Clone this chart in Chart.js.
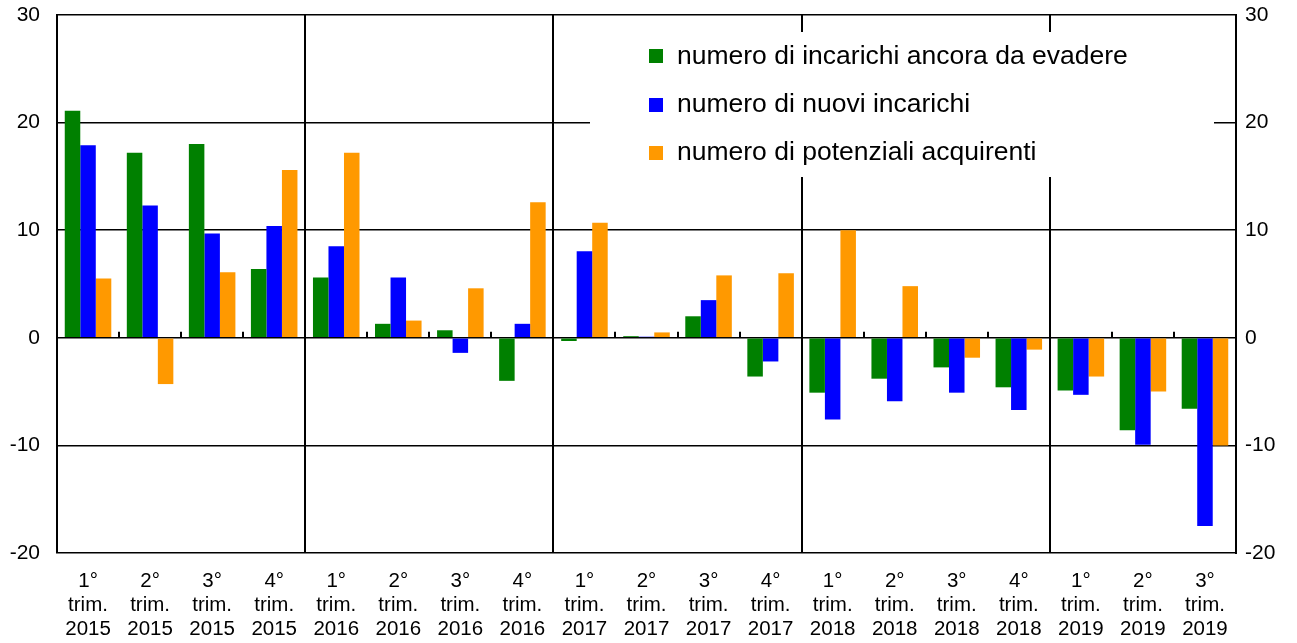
<!DOCTYPE html>
<html>
<head>
<meta charset="utf-8">
<script src="https://cdn.jsdelivr.net/npm/chart.js@4/dist/chart.umd.min.js"></script>
<style>
  html, body { margin: 0; padding: 0; background: #fff; }
  #wrap { width: 1297px; height: 643px; }
</style>
</head>
<body>
<div id="wrap"><canvas id="c" width="1297" height="643"></canvas></div>
<script>
const quarters = ['1°','2°','3°','4°','1°','2°','3°','4°','1°','2°','3°','4°','1°','2°','3°','4°','1°','2°','3°'];
const years = ['2015','2015','2015','2015','2016','2016','2016','2016','2017','2017','2017','2017','2018','2018','2018','2018','2019','2019','2019'];
const seriesNames = ['numero di incarichi ancora da evadere','numero di nuovi incarichi','numero di potenziali acquirenti'];
const incarichiDaEvadere = [21.1, 17.2, 18.0, 6.4, 5.6, 1.3, 0.7, -4.0, -0.3, 0.15, 2.0, -3.6, -5.1, -3.8, -2.75, -4.6, -4.9, -8.6, -6.6];
const nuoviIncarichi = [17.9, 12.3, 9.7, 10.4, 8.5, 5.6, -1.4, 1.3, 8.05, 0.1, 3.5, -2.2, -7.6, -5.9, -5.1, -6.7, -5.3, -9.95, -17.5];
const potenzialiAcquirenti = [5.5, -4.3, 6.1, 15.6, 17.2, 1.6, 4.6, 12.6, 10.7, 0.5, 5.8, 6.0, 10.0, 4.8, -1.85, -1.1, -3.6, -5.0, -10.0];
const yTicks = [-20, -10, 0, 10, 20, 30];

const labels = quarters.map((q, i) => [q, 'trim.', years[i]]);
const colors = ['#008000', '#0000ff', '#ff9900'];

const FONT = '"Liberation Sans", Arial, sans-serif';

const overlayPlugin = {
  id: 'overlay',
  afterDatasetsDraw(chart) {
    const ctx = chart.ctx;
    const xs = chart.scales.x, ys = chart.scales.y;
    const y0 = ys.getPixelForValue(0);
    ctx.save();
    // small tick marks on zero line at category boundaries
    ctx.strokeStyle = '#000';
    ctx.lineWidth = 2;
    for (let i = 1; i < labels.length; i++) {
      if (i % 4 === 0) continue;
      const x = Math.round((xs.getPixelForValue(i - 1) + xs.getPixelForValue(i)) / 2);
      ctx.beginPath();
      ctx.moveTo(x, y0);
      ctx.lineTo(x, y0 - 6);
      ctx.stroke();
    }
    // legend box
    ctx.fillStyle = '#fff';
    ctx.fillRect(590, 32, 624, 145);
    ctx.font = '26.5px ' + FONT;
    ctx.textBaseline = 'middle';
    ctx.textAlign = 'left';
    chart.data.datasets.forEach((ds, i) => {
      const cy = 56.3 + i * 48.4;
      ctx.fillStyle = ds.backgroundColor;
      ctx.fillRect(649, Math.round(cy - 7), 14, 14);
      ctx.fillStyle = '#000';
      ctx.fillText(ds.label, 677, cy);
    });
    ctx.restore();
  }
};

new Chart(document.getElementById('c'), {
  type: 'bar',
  data: {
    labels: labels,
    datasets: [
      { label: seriesNames[0], data: incarichiDaEvadere, backgroundColor: colors[0] },
      { label: seriesNames[1], data: nuoviIncarichi, backgroundColor: colors[1] },
      { label: seriesNames[2], data: potenzialiAcquirenti, backgroundColor: colors[2] }
    ]
  },
  options: {
    responsive: false,
    animation: false,
    devicePixelRatio: 1,
    layout: { padding: { top: 15, left: 0, right: 0, bottom: 0 } },
    datasets: { bar: { categoryPercentage: 0.75, barPercentage: 1.0 } },
    plugins: { legend: { display: false }, tooltip: { enabled: false } },
    scales: {
      x: {
        offset: true,
        grid: {
          offset: true,
          drawTicks: false,
          lineWidth: 2,
          color: (c) => (c.index !== undefined && c.index > 0 && c.index % 4 === 0) ? '#000' : 'rgba(0,0,0,0)'
        },
        border: { display: false },
        ticks: {
          color: '#000',
          font: { family: FONT, size: 20.5, lineHeight: '24px' },
          padding: 16,
          maxRotation: 0,
          autoSkip: false
        },
        afterFit: (s) => { s.height = 90; }
      },
      y: {
        position: 'left',
        min: -20, max: 30,
        afterBuildTicks: (s) => { s.ticks = yTicks.map(v => ({ value: v })); },
        grid: { color: '#000', lineWidth: 1.5, drawTicks: false },
        border: { display: true, color: '#000', width: 2 },
        ticks: { color: '#000', font: { family: FONT, size: 21 }, padding: 17 },
        afterFit: (s) => { s.width = 57; s.paddingTop = 0; s.paddingBottom = 0; }
      },
      y2: {
        position: 'right',
        min: -20, max: 30,
        afterBuildTicks: (s) => { s.ticks = yTicks.map(v => ({ value: v })); },
        grid: { display: false, drawTicks: false },
        border: { display: true, color: '#000', width: 2 },
        ticks: { color: '#000', font: { family: FONT, size: 21 }, padding: 9 },
        afterFit: (s) => { s.width = 61; s.paddingTop = 0; s.paddingBottom = 0; }
      }
    }
  },
  plugins: [overlayPlugin]
});
</script>
</body>
</html>
